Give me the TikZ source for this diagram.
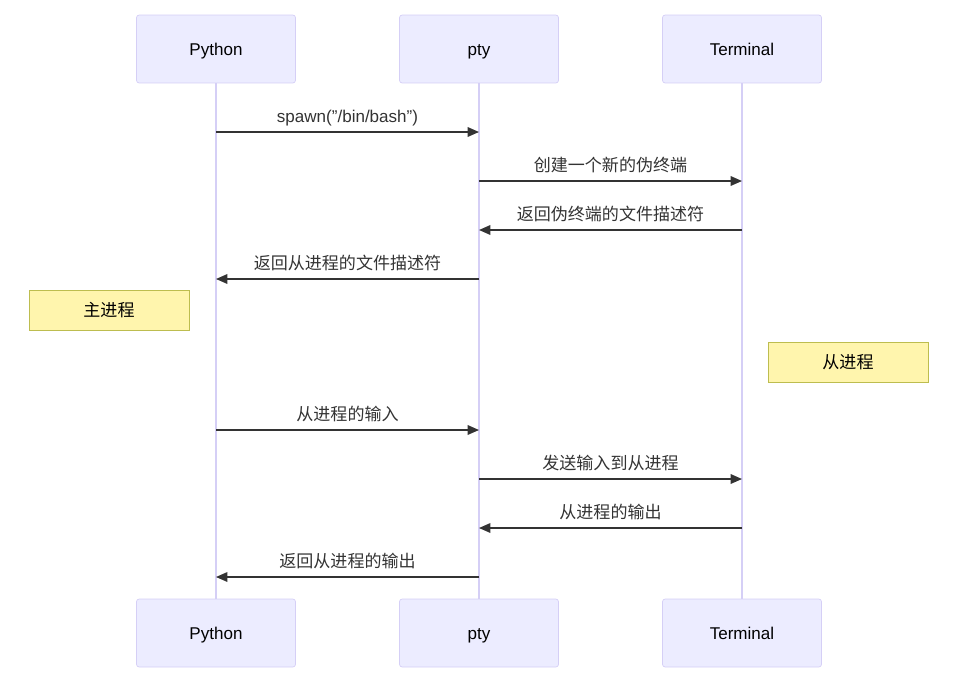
\documentclass[tikz,border=0pt]{standalone}
\usepackage{fontspec}
\setmainfont{Liberation Sans}
\newfontfamily\cjk{Noto Sans CJK SC}
\usetikzlibrary{arrows.meta}

\definecolor{actorfill}{HTML}{ECECFF}
\definecolor{actorline}{HTML}{D5CFF6}
\definecolor{notefill}{HTML}{FFF5AD}
\definecolor{noteline}{HTML}{BDBD4F}
\definecolor{msgline}{HTML}{333333}

\tikzset{
	actor/.style={draw=actorline, fill=actorfill, rounded corners=1.5pt,
		minimum width=3.18cm, minimum height=1.36cm, text height=7pt, text depth=0pt},
	note/.style={draw=noteline, fill=notefill, minimum width=3.2cm, minimum height=0.8cm, font=\fontsize{9.7}{11}\cjk},
	lifeline/.style={draw=actorline, line width=1.13pt},
	msg/.style={msgline, line width=0.8pt, -{Triangle[length=6.5pt, width=5.5pt]}},
	msglabel/.style={anchor=base, yshift=0.2cm, text=msgline, inner sep=0pt},
}

\begin{document}
\begin{tikzpicture}[x=0.02cm, y=-0.02cm, every node/.style={font=\fontsize{9.7}{11}\selectfont}]
	\useasboundingbox (0,0) rectangle (957,680);
	% actors, top and bottom
	\node[actor] (py) at (216,49) {Python};
	\node[actor] (pt) at (479,49) {pty};
	\node[actor] (tm) at (742,49) {Terminal};
	\node[actor] (pyb) at (216,633) {Python};
	\node[actor] (ptb) at (479,633) {pty};
	\node[actor] (tmb) at (742,633) {Terminal};
	\draw[lifeline] (py) -- (pyb);
	\draw[lifeline] (pt) -- (ptb);
	\draw[lifeline] (tm) -- (tmb);
	% notes
	\node[note] (master) at (109,310) {主进程};
	\node[note] (slave) at (848,362) {从进程};
	% message end points
	\coordinate (py1) at (py |- 0,132);  \coordinate (pt1) at (pt |- 0,132);
	\coordinate (pt2) at (pt |- 0,181);  \coordinate (tm2) at (tm |- 0,181);
	\coordinate (tm3) at (tm |- 0,230);  \coordinate (pt3) at (pt |- 0,230);
	\coordinate (pt4) at (pt |- 0,279);  \coordinate (py4) at (py |- 0,279);
	\coordinate (py5) at (py |- 0,430);  \coordinate (pt5) at (pt |- 0,430);
	\coordinate (pt6) at (pt |- 0,479);  \coordinate (tm6) at (tm |- 0,479);
	\coordinate (tm7) at (tm |- 0,528);  \coordinate (pt7) at (pt |- 0,528);
	\coordinate (pt8) at (pt |- 0,577);  \coordinate (py8) at (py |- 0,577);
	% messages
	\draw[msg] (py1) -- node[msglabel] {spawn("/bin/bash")} (pt1);
	\draw[msg] (pt2) -- node[msglabel] {\cjk 创建一个新的伪终端} (tm2);
	\draw[msg] (tm3) -- node[msglabel] {\cjk 返回伪终端的文件描述符} (pt3);
	\draw[msg] (pt4) -- node[msglabel] {\cjk 返回从进程的文件描述符} (py4);
	\draw[msg] (py5) -- node[msglabel] {\cjk 从进程的输入} (pt5);
	\draw[msg] (pt6) -- node[msglabel] {\cjk 发送输入到从进程} (tm6);
	\draw[msg] (tm7) -- node[msglabel] {\cjk 从进程的输出} (pt7);
	\draw[msg] (pt8) -- node[msglabel] {\cjk 返回从进程的输出} (py8);
\end{tikzpicture}
\end{document}
